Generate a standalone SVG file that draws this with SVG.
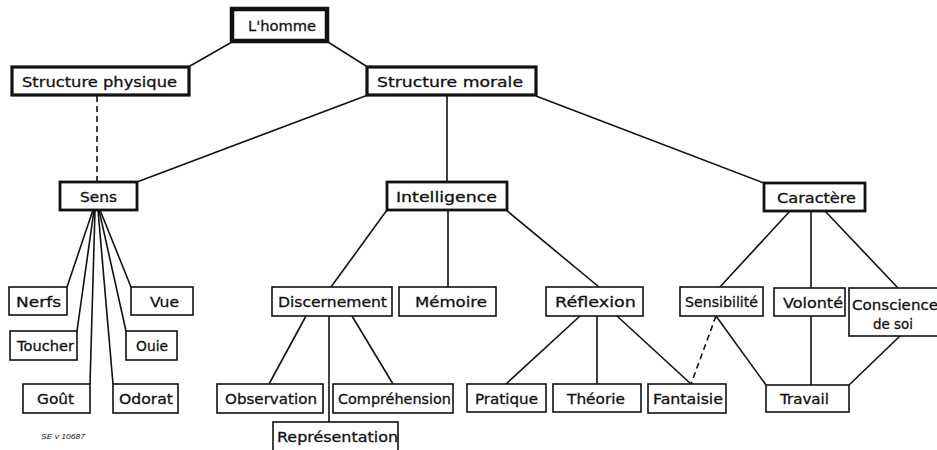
<svg xmlns="http://www.w3.org/2000/svg" width="937" height="450" viewBox="0 0 937 450">
<style>
rect{fill:#fff;stroke:#111}
.b1{stroke-width:1.6}
.b2{stroke-width:2.8}
.b3{stroke-width:3.2}
.b4{stroke-width:4.5}
text{font-family:"DejaVu Sans","Liberation Sans",sans-serif;font-size:14.8px;fill:#111;stroke:#111;stroke-width:0.3}
.c line{stroke:#111;stroke-width:1.6}
.c .d{stroke-dasharray:6 4}
.ref{font-family:"Liberation Sans",sans-serif;font-size:8px;font-style:italic;stroke:none}
</style>
<rect x="0" y="0" width="937" height="450" style="fill:#fff;stroke:none"/>
<g class="c" id="connectors">
<line x1="232" y1="42" x2="190" y2="66"/>
<line x1="328" y1="42" x2="366" y2="66"/>
<line class="d" x1="97" y1="96" x2="97" y2="182"/>
<line x1="368" y1="95" x2="137" y2="182"/>
<line x1="447" y1="96" x2="447" y2="182"/>
<line x1="536" y1="96" x2="764" y2="183"/>
<line x1="93" y1="210" x2="67" y2="287"/>
<line x1="94" y1="210" x2="77" y2="331"/>
<line x1="95" y1="210" x2="90" y2="384"/>
<line x1="98" y1="210" x2="113" y2="384"/>
<line x1="99" y1="210" x2="126" y2="331"/>
<line x1="100" y1="210" x2="131" y2="287"/>
<line x1="387" y1="210" x2="331" y2="287"/>
<line x1="448" y1="210" x2="448" y2="287"/>
<line x1="506" y1="210" x2="599" y2="287"/>
<line x1="306" y1="316" x2="269" y2="384"/>
<line x1="329" y1="316" x2="329" y2="422"/>
<line x1="352" y1="316" x2="393" y2="384"/>
<line x1="580" y1="316" x2="506" y2="384"/>
<line x1="597" y1="316" x2="597" y2="384"/>
<line x1="617" y1="316" x2="691" y2="384"/>
<line class="d" x1="716" y1="316" x2="691" y2="384"/>
<line x1="790" y1="211" x2="719" y2="288"/>
<line x1="811" y1="211" x2="811" y2="385"/>
<line x1="825" y1="211" x2="898" y2="288"/>
<line x1="716" y1="316" x2="766" y2="385"/>
<line x1="900" y1="336" x2="849" y2="385"/>
</g>
<g id="lhomme"><rect class="b4" x="232" y="9" width="95" height="32"/><text x="248" y="30.5" textLength="68" lengthAdjust="spacingAndGlyphs">L'homme</text></g>
<g id="structure-physique"><rect class="b3" x="12" y="67" width="177" height="28"/><text x="22" y="86.5" textLength="155" lengthAdjust="spacingAndGlyphs">Structure physique</text></g>
<g id="structure-morale"><rect class="b3" x="367" y="67" width="169" height="28"/><text x="377" y="86.5" textLength="146" lengthAdjust="spacingAndGlyphs">Structure morale</text></g>
<g id="sens"><rect class="b2" x="60" y="182" width="77" height="28"/><text x="80" y="201.5" textLength="37" lengthAdjust="spacingAndGlyphs">Sens</text></g>
<g id="intelligence"><rect class="b2" x="387" y="182" width="120" height="28"/><text x="396" y="202" textLength="101" lengthAdjust="spacingAndGlyphs">Intelligence</text></g>
<g id="caractere"><rect class="b2" x="764" y="183" width="101" height="28"/><text x="777" y="202.5" textLength="79" lengthAdjust="spacingAndGlyphs">Caractère</text></g>
<g id="nerfs"><rect class="b1" x="9" y="287" width="58" height="28"/><text x="16" y="306.5" textLength="45" lengthAdjust="spacingAndGlyphs">Nerfs</text></g>
<g id="vue"><rect class="b1" x="131" y="287" width="62" height="28"/><text x="150" y="306.5" textLength="29" lengthAdjust="spacingAndGlyphs">Vue</text></g>
<g id="toucher"><rect class="b1" x="10" y="331" width="67" height="29"/><text x="17" y="351" textLength="57" lengthAdjust="spacingAndGlyphs">Toucher</text></g>
<g id="ouie"><rect class="b1" x="126" y="331" width="51" height="29"/><text x="136" y="351" textLength="32" lengthAdjust="spacingAndGlyphs">Ouie</text></g>
<g id="gout"><rect class="b1" x="23" y="384" width="67" height="29"/><text x="37" y="404" textLength="37" lengthAdjust="spacingAndGlyphs">Goût</text></g>
<g id="odorat"><rect class="b1" x="113" y="384" width="65" height="29"/><text x="119" y="404" textLength="54" lengthAdjust="spacingAndGlyphs">Odorat</text></g>
<g id="discernement"><rect class="b1" x="272" y="287" width="120" height="29"/><text x="278" y="307" textLength="109" lengthAdjust="spacingAndGlyphs">Discernement</text></g>
<g id="memoire"><rect class="b1" x="399" y="287" width="97" height="29"/><text x="415" y="307" textLength="72" lengthAdjust="spacingAndGlyphs">Mémoire</text></g>
<g id="reflexion"><rect class="b1" x="546" y="287" width="97" height="29"/><text x="555" y="307" textLength="81" lengthAdjust="spacingAndGlyphs">Réflexion</text></g>
<g id="observation"><rect class="b1" x="217" y="384" width="106" height="29"/><text x="225" y="404" textLength="92" lengthAdjust="spacingAndGlyphs">Observation</text></g>
<g id="comprehension"><rect class="b1" x="333" y="384" width="120" height="29"/><text x="338" y="404" textLength="113" lengthAdjust="spacingAndGlyphs">Compréhension</text></g>
<g id="representation"><rect class="b1" x="273" y="422" width="125" height="34"/><text x="277" y="442" textLength="121" lengthAdjust="spacingAndGlyphs">Représentation</text></g>
<g id="pratique"><rect class="b1" x="467" y="384" width="79" height="28"/><text x="475" y="403.5" textLength="63" lengthAdjust="spacingAndGlyphs">Pratique</text></g>
<g id="theorie"><rect class="b1" x="553" y="384" width="88" height="28"/><text x="567" y="403.5" textLength="58" lengthAdjust="spacingAndGlyphs">Théorie</text></g>
<g id="fantaisie"><rect class="b1" x="648" y="384" width="78" height="29"/><text x="653" y="403.5" textLength="70" lengthAdjust="spacingAndGlyphs">Fantaisie</text></g>
<g id="sensibilite"><rect class="b1" x="680" y="287" width="83" height="29"/><text x="685" y="307" textLength="73" lengthAdjust="spacingAndGlyphs">Sensibilité</text></g>
<g id="volonte"><rect class="b1" x="774" y="288" width="71" height="28"/><text x="783" y="307.5" textLength="60" lengthAdjust="spacingAndGlyphs">Volonté</text></g>
<g id="conscience"><rect class="b1" x="849" y="288" width="95" height="48"/><text x="852" y="309.5" textLength="86" lengthAdjust="spacingAndGlyphs">Conscience</text><text x="873" y="328.5" textLength="40" lengthAdjust="spacingAndGlyphs">de soi</text></g>
<g id="travail"><rect class="b1" x="766" y="385" width="83" height="27"/><text x="780" y="404" textLength="49" lengthAdjust="spacingAndGlyphs">Travail</text></g>
<text class="ref" x="41" y="439" textLength="44" lengthAdjust="spacingAndGlyphs">SE v 10687</text>
</svg>
